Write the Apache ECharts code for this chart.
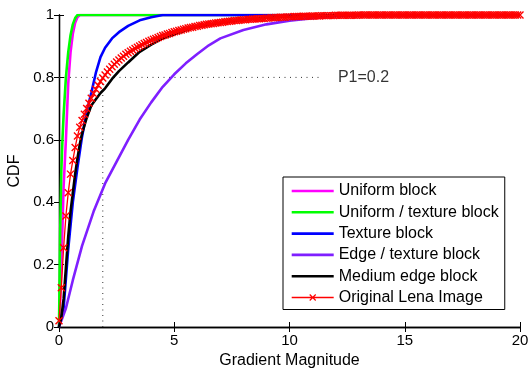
<!DOCTYPE html>
<html>
<head>
<meta charset="utf-8">
<script src="https://cdn.jsdelivr.net/npm/echarts@6/dist/echarts.min.js"></script>
<style>
html,body{margin:0;padding:0;background:#fff;}
#chart{width:531px;height:371px;}
</style>
</head>
<body>
<div id="chart"></div>
<script>
// ---- data ----
const seriesNames = ['Uniform block','Uniform / texture block','Texture block','Edge / texture block','Medium edge block','Original Lena Image'];
const seriesColors = ['#ff00ff','#00ff00','#0000ff','#7f1fff','#000000','#ff0000'];

const uniformX = [0,0.05,0.1,0.15,0.2,0.3,0.4,0.5,0.6,0.7,0.8,0.9,20];
const uniformY = [0,0.08,0.2,0.32,0.45,0.6,0.78,0.88,0.94,0.975,0.993,1,1];

const uniTexX = [0,0.05,0.1,0.15,0.2,0.3,0.4,0.5,0.6,0.7,0.8,20];
const uniTexY = [0,0.3,0.5,0.6,0.68,0.8,0.88,0.935,0.97,0.99,1,1];

const textureX = [0,0.2,0.4,0.6,0.8,1.0,1.2,1.4,1.6,1.8,2.0,2.3,2.6,3.0,3.5,4.0,4.5,20];
const textureY = [0,0.06,0.25,0.40,0.51,0.61,0.69,0.75,0.815,0.865,0.895,0.925,0.945,0.965,0.983,0.993,1,1];

const edgeTexX = [0,0.3,0.6,1.0,1.5,2.0,2.5,3.0,3.5,4.0,4.5,5.0,5.5,6.0,6.5,7.0,8.0,9.0,10,11,12,13,14,20];
const edgeTexY = [0,0.06,0.15,0.26,0.37,0.46,0.53,0.6,0.665,0.72,0.77,0.81,0.845,0.875,0.903,0.925,0.952,0.97,0.982,0.99,0.996,0.999,1,1];

const mediumX = [0,0.1,0.2,0.3,0.4,0.5,0.6,0.7,0.8,0.9,1.0,1.2,1.4,1.6,1.8,2.0,2.3,2.6,3.0,3.5,4.0,4.5,5,6,7,8,9,10,12,20];
const mediumY = [0,0.03,0.09,0.19,0.29,0.37,0.43,0.49,0.54,0.585,0.62,0.67,0.71,0.73,0.75,0.765,0.795,0.82,0.848,0.882,0.905,0.925,0.938,0.962,0.975,0.985,0.991,0.995,0.999,1];

const lenaX = [
  0,0.1,0.2,0.3,0.4,0.5,0.6,0.7,0.8,0.9,
  1,1.1,1.2,1.3,1.4,1.5,1.6,1.7,1.8,1.9,
  2,2.1,2.2,2.3,2.4,2.5,2.6,2.7,2.8,2.9,
  3,3.1,3.2,3.3,3.4,3.5,3.6,3.7,3.8,3.9,
  4,4.1,4.2,4.3,4.4,4.5,4.6,4.7,4.8,4.9,
  5,5.1,5.2,5.3,5.4,5.5,5.6,5.7,5.8,5.9,
  6,6.1,6.2,6.3,6.4,6.5,6.6,6.7,6.8,6.9,
  7,7.1,7.2,7.3,7.4,7.5,7.6,7.7,7.8,7.9,
  8,8.1,8.2,8.3,8.4,8.5,8.6,8.7,8.8,8.9,
  9,9.1,9.2,9.3,9.4,9.5,9.6,9.7,9.8,9.9,
  10,10.1,10.2,10.3,10.4,10.5,10.6,10.7,10.8,10.9,
  11,11.1,11.2,11.3,11.4,11.5,11.6,11.7,11.8,11.9,
  12,12.1,12.2,12.3,12.4,12.5,12.6,12.7,12.8,12.9,
  13,13.1,13.2,13.3,13.4,13.5,13.6,13.7,13.8,13.9,
  14,14.1,14.2,14.3,14.4,14.5,14.6,14.7,14.8,14.9,
  15,15.1,15.2,15.3,15.4,15.5,15.6,15.7,15.8,15.9,
  16,16.1,16.2,16.3,16.4,16.5,16.6,16.7,16.8,16.9,
  17,17.1,17.2,17.3,17.4,17.5,17.6,17.7,17.8,17.9,
  18,18.1,18.2,18.3,18.4,18.5,18.6,18.7,18.8,18.9,
  19,19.1,19.2,19.3,19.4,19.5,19.6,19.7,19.8,19.9,
  20];
const lenaY = [
  0.02,0.126,0.254,0.356,0.43,0.49,0.534,0.575,0.612,0.64,
  0.662,0.682,0.70,0.717,0.733,0.748,0.762,0.775,0.787,0.798,
  0.808,0.817,0.826,0.834,0.842,0.849,0.856,0.862,0.868,0.874,
  0.879,0.884,0.888,0.893,0.897,0.901,0.905,0.909,0.912,0.916,
  0.919,0.922,0.925,0.928,0.931,0.934,0.936,0.939,0.941,0.944,
  0.946,0.948,0.950,0.952,0.954,0.956,0.958,0.960,0.961,0.963,
  0.964,0.966,0.967,0.969,0.970,0.971,0.972,0.973,0.974,0.975,
  0.976,0.977,0.978,0.979,0.980,0.981,0.982,0.982,0.983,0.984,
  0.985,0.985,0.986,0.986,0.987,0.987,0.988,0.988,0.989,0.989,
  0.990,0.990,0.991,0.991,0.992,0.992,0.993,0.993,0.993,0.994,
  0.994,0.994,0.995,0.995,0.995,0.995,0.996,0.996,0.996,0.996,
  0.997,0.997,0.997,0.997,0.998,0.998,0.998,0.998,0.998,0.998,
  0.999,0.999,0.999,0.999,0.999,0.999,0.999,0.999,0.999,0.999,
  1,1,1,1,1,1,1,1,1,1,
  1,1,1,1,1,1,1,1,1,1,
  1,1,1,1,1,1,1,1,1,1,
  1,1,1,1,1,1,1,1,1,1,
  1,1,1,1,1,1,1,1,1,1,
  1,1,1,1,1,1,1,1,1,1,
  1,1,1,1,1,1,1,1,1,1,
  1];

// P1 reference annotation
const p1Label = 'P1=0.2';
const p1X = 1.9;
const p1Y = 0.8;
const p1LineEndX = 11.4;
const p1LabelX = 12.1;

const xTicks = [0,5,10,15,20];
const yTicks = [0,0.2,0.4,0.6,0.8,1];

// ---- chart ----
const zip = (xs, ys) => xs.map((x, i) => [x, ys[i]]);
const curveData = [
  zip(uniformX, uniformY),
  zip(uniTexX, uniTexY),
  zip(textureX, textureY),
  zip(edgeTexX, edgeTexY),
  zip(mediumX, mediumY),
  zip(lenaX, lenaY)
];

const font = 'Liberation Sans, Arial, Helvetica, sans-serif';
const chart = echarts.init(document.getElementById('chart'), null, {renderer: 'canvas'});

const dotted = {color: '#333', width: 1, type: [1, 4.5]};
const series = [
  {
    type: 'line', name: 'p1h', silent: true, symbol: 'none', z: 1,
    lineStyle: dotted,
    data: [[0, p1Y], [p1LineEndX, p1Y]]
  },
  {
    type: 'line', name: 'p1v', silent: true, symbol: 'none', z: 1,
    lineStyle: dotted,
    data: [[p1X, 0], [p1X, p1Y]]
  },
  {
    type: 'scatter', name: 'p1t', silent: true, symbolSize: 0, z: 1,
    label: {show: true, position: 'right', distance: 0, formatter: p1Label, color: '#000', fontSize: 16, fontFamily: font},
    data: [[p1LabelX, p1Y]]
  }
];

seriesNames.forEach((name, i) => {
  const isLena = i === 5;
  series.push({
    type: 'line', name: name, z: 2 + i,
    data: curveData[i],
    symbol: isLena ? 'path://M0,0L10,10M10,0L0,10' : 'none',
    symbolSize: isLena ? 7 : 0,
    showSymbol: isLena,
    showAllSymbol: true,
    animation: false,
    color: seriesColors[i],
    itemStyle: isLena ? {color: seriesColors[i], borderColor: seriesColors[i], borderWidth: 1.4} : {color: seriesColors[i]},
    lineStyle: {color: seriesColors[i], width: isLena ? 1.3 : 2.6}
  });
});

// legend icons: plain line, or line with an x marker
const lineIcon = 'path://M0,0H42V2.6H0Z';
const lineXIcon = 'path://M0,7.2H42V8.8H0ZM17.6,5.4L18.4,4.6L24.4,10.6L23.6,11.4ZM23.6,4.6L24.4,5.4L18.4,11.4L17.6,10.6Z';

const option = {
  animation: false,
  backgroundColor: '#fff',
  grid: {left: 59, right: 11, top: 15, bottom: 44, containLabel: false, outerBoundsMode: 'none'},
  legend: {
    data: seriesNames.map((n, i) => ({name: n, icon: i === 5 ? lineXIcon : lineIcon})),
    orient: 'vertical',
    left: 283, top: 177,
    padding: [6, 6, 4, 8.7],
    itemGap: 5.3,
    itemWidth: 42,
    itemHeight: 16,
    itemStyle: {borderWidth: 0},
    backgroundColor: '#fff',
    borderColor: '#000',
    borderWidth: 1,
    textStyle: {fontSize: 16, lineHeight: 16, fontFamily: font, color: '#000'}
  },
  xAxis: [
    {
      type: 'value', min: 0, max: 20, interval: 5,
      name: 'Gradient Magnitude', nameLocation: 'middle', nameGap: 22,
      nameTextStyle: {fontSize: 16, fontFamily: font, color: '#000'},
      axisLine: {show: true, lineStyle: {color: '#000', width: 1.3}},
      axisTick: {show: true, inside: true, length: 5, lineStyle: {color: '#000'}},
      axisLabel: {fontSize: 15, fontFamily: font, color: '#000', margin: 6, formatter: v => xTicks.includes(v) ? String(v) : ''},
      splitLine: {show: false}
    },
    {
      type: 'value', min: 0, max: 20, interval: 5, position: 'top',
      axisLine: {show: true, lineStyle: {color: '#000', width: 1.3}},
      axisTick: {show: true, inside: true, length: 5, lineStyle: {color: '#000'}},
      axisLabel: {show: false}, splitLine: {show: false}
    }
  ],
  yAxis: [
    {
      type: 'value', min: 0, max: 1, interval: 0.2,
      name: 'CDF', nameLocation: 'middle', nameGap: 34, nameRotate: 90,
      nameTextStyle: {fontSize: 16, fontFamily: font, color: '#000'},
      axisLine: {show: true, lineStyle: {color: '#000', width: 1.3}},
      axisTick: {show: true, inside: true, length: 5, lineStyle: {color: '#000'}},
      axisLabel: {fontSize: 15, fontFamily: font, color: '#000', margin: 5,
        formatter: v => { const t = yTicks.find(a => Math.abs(a - v) < 1e-9); return t === undefined ? '' : String(t); }},
      splitLine: {show: false}
    },
    {
      type: 'value', min: 0, max: 1, interval: 0.2, position: 'right',
      axisLine: {show: true, lineStyle: {color: '#000', width: 1.3}},
      axisTick: {show: true, inside: true, length: 5, lineStyle: {color: '#000'}},
      axisLabel: {show: false}, splitLine: {show: false}
    }
  ],
  series: series
};
chart.setOption(option);
</script>
</body>
</html>
